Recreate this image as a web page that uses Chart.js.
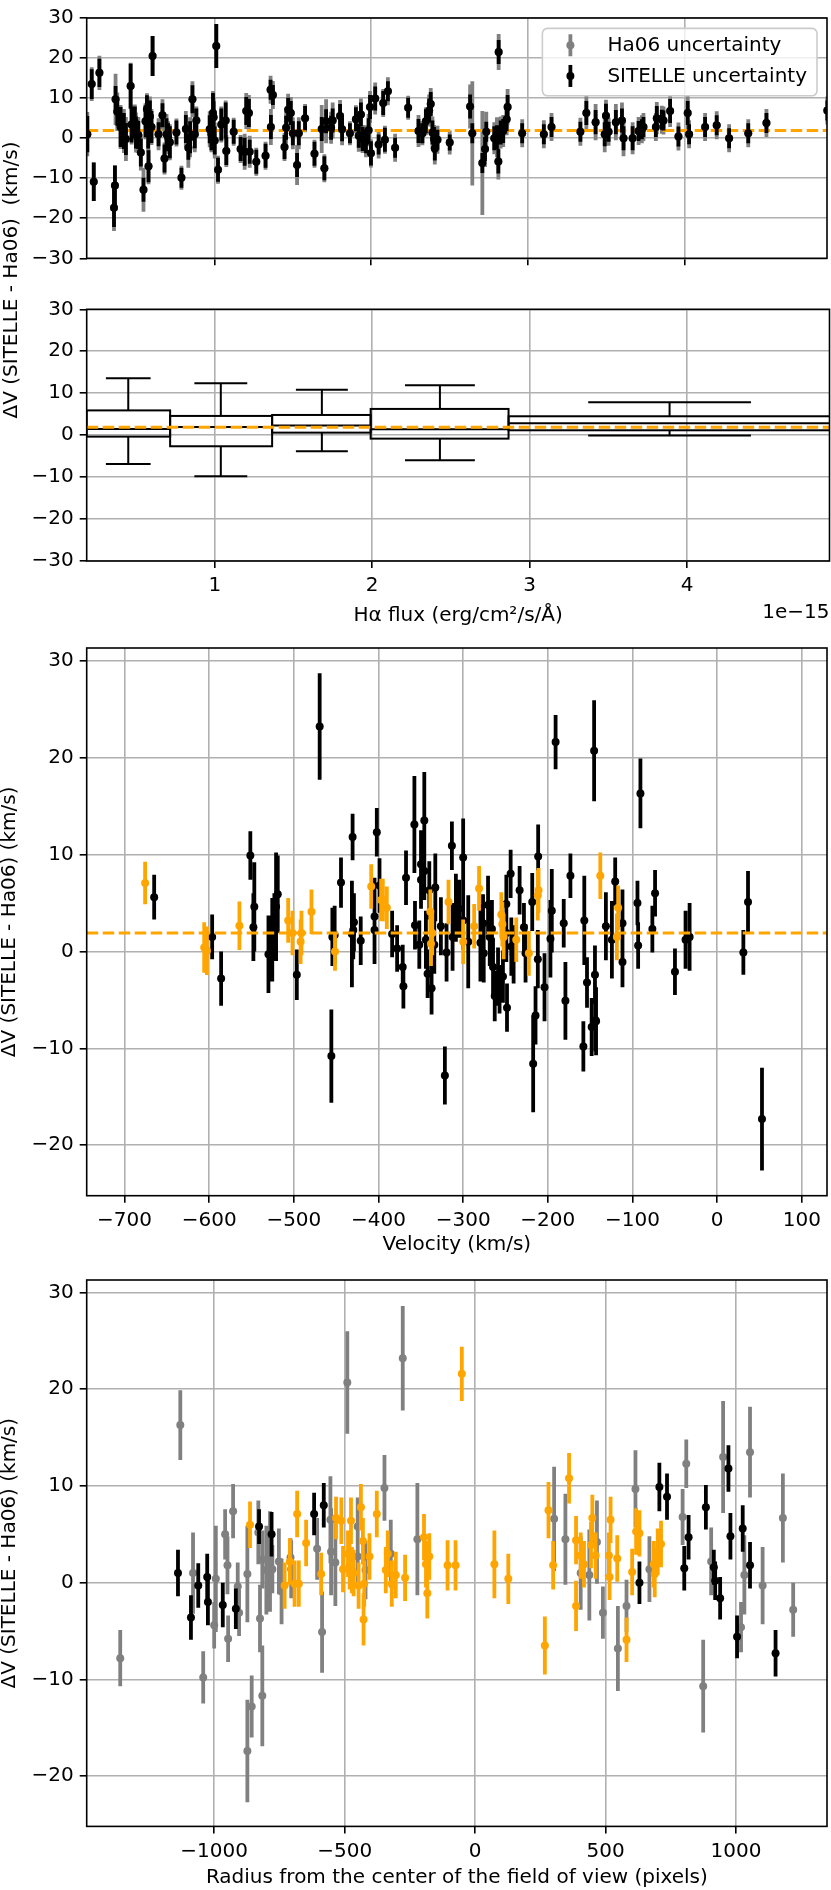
<!DOCTYPE html>
<html><head><meta charset="utf-8">
<script src="https://cdn.jsdelivr.net/npm/chart.js@4/dist/chart.umd.min.js"></script>
<style>
html,body{margin:0;padding:0;background:#fff;width:831px;height:1890px;overflow:hidden;position:relative;}
canvas{position:absolute;left:0;}
#ylab12{position:absolute;left:-190px;top:268px;width:400px;height:24px;text-align:center;transform:rotate(-90deg);transform-origin:50% 50%;font:20px 'DejaVu Sans',sans-serif;white-space:pre;color:#000;line-height:24px;}
</style></head><body>
<canvas id="cA" width="831" height="290" style="top:0px"></canvas>
<canvas id="cB" width="831" height="340" style="top:290px"></canvas>
<canvas id="cC" width="831" height="632" style="top:630px"></canvas>
<canvas id="cD" width="831" height="628" style="top:1262px"></canvas>
<div id="ylab12">ΔV (SITELLE - Ha06)  (km/s)</div>
<script>
// ---------------- DATA ----------------
const meanOffset = 1.9;              // dashed reference line (km/s)
const dvTicks = [-30, -20, -10, 0, 10, 20, 30];
const dvTicksWide = [-20, -10, 0, 10, 20, 30];
const fluxTicks = [1, 2, 3, 4];
const velTicks = [-700, -600, -500, -400, -300, -200, -100, 0, 100];
const radTicks = [-1000, -500, 0, 500, 1000];
const fluxLabel = 'Hα flux (erg/cm²/s/Å)';
const fluxOffsetLabel = '1e\u221215';
const dvLabel = 'ΔV (SITELLE - Ha06) (km/s)';
const velLabel = 'Velocity (km/s)';
const radLabel = 'Radius from the center of the field of view (pixels)';
const legendLabels = ['Ha06 uncertainty', 'SITELLE uncertainty'];

// Panel 1: ΔV vs Hα flux (×1e-15)
const fluxX = [
0.190,0.218,0.231,0.267,0.360,0.366,0.370,0.381,0.402,0.423,
0.436,0.466,0.472,0.493,0.500,0.515,0.531,0.548,0.561,0.570,
0.578,0.580,0.589,0.606,0.599,0.644,0.669,0.682,0.695,0.705,
0.716,0.758,0.790,0.818,0.834,0.845,0.860,0.875,0.885,0.970,
0.981,0.991,1.002,1.012,0.995,1.023,1.044,1.072,1.076,1.123,
1.167,1.193,1.203,1.220,1.225,1.267,1.326,1.358,1.373,1.360,
1.447,1.457,1.470,1.487,1.500,1.527,1.538,1.578,1.638,1.684,
1.701,1.712,1.744,1.754,1.801,1.814,1.864,1.902,1.920,1.934,
1.945,1.966,1.983,1.992,1.998,2.025,2.047,2.076,2.087,2.106,
2.152,2.235,2.301,
2.326,2.348,2.369,2.379,2.390,2.400,2.405,2.422,2.500,2.630,
2.644,2.708,2.725,2.733,2.784,2.801,2.810,2.812,2.825,2.841,
2.863,2.869,2.962,3.100,3.149,3.333,3.371,3.430,3.488,3.496,
3.513,3.559,3.598,3.608,3.666,3.704,3.725,3.735,3.814,3.820,
3.852,3.863,3.905,3.958,4.017,4.026,4.128,4.202,4.281,4.403,4.519,4.907];
const fluxDV = [
1.0,13.5,-10.9,16.3,-17.4,-11.8,9.7,6.6,2.8,1.8,
-0.2,13.0,3.4,3.9,1.4,0.8,-3.6,-12.9,4.2,7.2,
1.4,-7.0,5.4,20.5,2.8,1.0,5.7,-5.1,1.0,0.2,
-1.0,1.4,-9.9,2.3,-2.4,0.2,9.7,1.0,4.4,2.2,
1.0,6.3,-0.6,23.0,5.2,-7.9,3.4,4.4,-3.2,1.6,
-2.7,-3.4,6.8,6.3,-3.4,-5.9,-4.4,12.1,10.8,2.8,
-2.2,2.6,7.1,6.3,1.2,-6.7,1.2,5.0,-3.9,2.3,
-7.5,4.2,2.6,4.4,5.5,2.2,1.2,4.7,0.6,5.9,
-0.2,-0.8,2.0,7.8,-3.8,9.9,-1.6,8.8,-0.4,11.7,
-2.4,7.6,1.8,
1.2,4.2,6.9,8.5,1.4,-0.2,-2.6,-0.4,-1.1,7.9,
1.2,-6.2,-2.7,1.6,0,0.2,-5.8,21.5,1.4,1.8,
4.7,7.8,1.2,1.0,2.8,1.6,6.3,4.0,1.0,5.6,
1.6,4.0,4.4,0,0,1.8,2.2,2.8,2.8,5.0,
4.6,4.4,6.8,0.4,6.3,1.0,2.8,3.2,0,1.2,3.8,6.9];
const fluxErrSitelle = [
4.5,3.7,4.8,3.5,4.8,5.0,3.3,3.5,5.0,4.5,
4.0,5.6,4.5,4.0,4.0,3.5,3.5,3.0,4.0,3.5,
4.0,4.0,4.0,5.0,4.0,3.0,3.0,3.5,4.0,3.5,
4.0,3.0,2.5,3.5,3.0,4.0,3.5,3.5,3.0,3.5,
4.0,5.0,3.5,5.5,4.0,3.0,4.0,4.5,3.5,3.0,
3.0,3.5,3.5,3.5,3.0,3.0,3.0,2.5,2.5,3.0,
3.0,3.0,3.0,3.0,3.0,3.0,3.0,3.0,3.0,3.0,
3.0,3.0,3.0,3.0,3.0,3.0,2.5,3.0,3.0,3.0,
3.0,3.0,3.0,3.0,3.0,3.0,2.5,3.0,3.0,2.5,
2.5,2.5,3.0,
2.5,3.0,3.0,3.0,3.0,3.0,3.0,2.5,2.0,3.0,
2.5,2.5,3.0,2.5,3.0,3.0,3.0,3.0,3.0,3.0,
3.0,3.0,2.5,2.5,2.5,2.5,3.0,3.0,3.0,3.0,
2.5,3.0,3.0,3.0,3.0,2.5,2.5,2.5,2.5,3.0,
2.5,2.5,3.0,2.5,3.0,2.5,2.5,2.5,2.5,2.5,2.5,2.5];
const fluxErrHa06 = [
5.5,4.2,4.8,4.3,5.8,5.0,6.4,4.8,5.5,5.5,
5.5,5.8,5.0,4.5,5.0,4.5,4.5,5.5,4.5,4.0,
5.0,4.5,5.0,5.0,4.5,4.0,4.0,4.0,5.0,4.0,
4.5,3.5,3.0,4.5,5.0,5.0,4.5,4.5,3.5,4.5,
4.5,5.5,4.5,5.5,5.0,3.5,4.5,5.0,4.0,3.5,
3.5,4.5,4.5,4.5,4.0,3.5,3.5,3.5,3.5,4.5,
3.5,4.0,4.0,4.0,4.0,5.0,4.0,3.5,3.5,6.0,
3.5,5.5,4.0,4.5,4.0,4.0,3.0,3.5,4.0,4.0,
3.5,4.0,4.0,4.0,3.5,4.0,3.5,3.5,3.5,3.5,
3.5,3.0,4.0,
3.0,3.5,4.0,4.0,4.0,3.5,4.0,3.5,3.0,5.5,
13.0,13.0,4.5,5.0,4.0,5.0,4.5,4.5,4.0,4.0,
4.0,4.5,3.5,3.5,3.5,3.5,4.5,4.5,4.5,4.0,
3.5,4.5,4.5,4.5,4.0,3.5,3.5,3.5,3.5,4.0,
3.5,3.5,4.0,3.5,4.5,3.5,3.5,3.5,3.5,3.5,3.5,3.5];

// Panel 2: box plots per flux bin
const boxBinLo   = [0.186, 0.716, 1.364, 1.990, 2.866];
const boxBinHi   = [0.716, 1.364, 1.990, 2.866, 4.950];
const boxCenter  = [0.450, 1.038, 1.680, 2.430, 3.889];
const boxCapHalf = [0.142, 0.168, 0.165, 0.222, 0.517];
const boxQ1      = [-0.35, -2.65, 0.60, -0.83, 1.16];
const boxMedian  = [1.47, 1.95, 2.30, 1.40, 2.83];
const boxQ3      = [5.90, 4.58, 4.81, 6.25, 4.50];
const boxWhLo    = [-6.88, -9.82, -3.85, -6.00, -0.10];
const boxWhHi    = [13.55, 12.37, 10.85, 11.90, 7.84];

// Panel 3: ΔV vs velocity
const velBlackV = [-665,-596.5,-585.9,-551.4,-546.7,-547.8,-530,-525.5,-523,-521,-519,-496.5,-469.5,-455.7,-454.5,-451.8,-444.3,-430.6,-431.4,-429.8,
-429,-421,-404.7,-404.7,-402,-398.8,-383.9,-378,-371.4,-370.6,-367.5,-357.6,-356.9,-351.8,-349.8,-349.8,-345.9,-345.9,-344,-342,
-340,-337.3,-334.1,-332.9,-326.3,-321.6,-319.6,-313.3,-312.5,-308.6,-304.7,-300,-300,-294,-279.6,-276.5,-275.7,-270.6,-268.6,-266,
-264.7,-262.7,-258.8,-257,-253,-249,-249,-248.2,-243.9,-243.1,-240.4,-233.3,-228.2,-226.3,-218.4,-217.3,-214.5,-211.8,-211.4,-203.9,
-196.9,-195.3,-190.8,-181.2,-179.2,-173.3,-158,-156.9,-153.7,-148.2,-145.3,-144.3,-143.5,-143,-131.4,-124.3,-120.4,-111.8,-111.8,-94.1,
-93.3,-90.6,-76.5,-73.3,-49.8,-37.3,-32.5,31,36.5,53];
const velBlackDV = [5.6,1.5,-2.8,9.9,4.6,2.5,-0.3,1.2,2.5,4.6,5.9,-2.4,23.2,-10.8,1.5,1.7,7.1,11.8,1.8,2.2,
3.0,1.1,3.6,2.2,12.3,6.8,1.8,0.3,-1.6,-3.6,7.6,13.1,2.7,0.7,9.0,7.4,13.5,8.3,1.2,-2.3,
6.3,-3.8,0.7,6.6,2.6,-12.8,-0.1,10.9,1.5,4.5,4.4,9.7,3.2,1.0,0.9,2.9,-0.2,4.8,1.5,2.3,
-1.6,-4.6,-2.6,-3.9,-2.6,4.9,1.9,-5.8,8.0,0.5,-0.3,6.3,2.5,-0.2,5.1,-11.6,-6.6,-0.8,9.8,-3.7,
1.3,4.2,21.6,2.9,-5.1,7.8,-9.8,3.2,-3.2,-7.8,20.7,-2.4,-7.1,-7.2,2.6,1.2,7.2,2.9,-1.1,5.0,
0.6,16.3,2.3,6.0,-2.1,1.2,1.5,-0.1,5.1,-17.3];
const velBlackErr = [2.3,2.3,2.8,2.5,4.6,3.5,4.0,4.3,3.5,5.6,4.0,2.6,5.5,4.8,3.0,3.0,2.6,2.4,5.5,3.0,
3.0,2.5,4.0,3.5,2.5,2.8,2.4,2.4,2.3,2.3,2.8,5.0,2.5,2.5,3.5,3.0,5.0,3.0,3.0,2.5,
3.0,2.7,3.0,3.5,3.0,3.0,3.0,2.5,3.5,3.5,3.0,4.0,3.0,4.8,4.0,3.0,3.0,3.0,3.0,3.0,
3.0,2.6,3.0,2.5,2.7,3.0,3.0,2.5,2.5,3.0,3.0,2.5,2.5,3.0,3.0,5.0,3.0,3.0,3.3,3.5,
4.0,4.3,2.8,2.5,4.0,2.3,2.6,4.6,2.6,3.0,5.2,3.0,3.2,3.5,3.5,4.0,2.5,3.5,2.6,2.3,
2.4,3.6,2.4,2.4,2.4,3.0,3.5,2.3,3.2,5.3];
const velOrangeV = [-675.7,-605.9,-602.7,-564.3,-506.7,-501.6,-492,-491,-479.2,-451.4,-408.6,-396.9,-394.9,-390.2,-338.8,-338,-336.5,-317.3,-300,-287,
-281.2,-254.9,-253.7,-252.2,-237.3,-222.4,-211.8,-211,-138,-118.4,-116.9];
const velOrangeDV = [7.06,0.4,0.07,2.65,3.2,1.9,1.0,1.9,4.1,0,6.7,5.3,5.3,4.5,4.1,0.8,1.9,5.1,1.0,2.6,
6.5,3.8,2.8,1.5,1.2,-0.2,5.8,6.3,7.8,1.5,4.5];
const velOrangeErr = [2.2,2.6,2.5,2.5,2.3,2.3,2.3,2.3,2.3,2.0,2.3,2.2,2.2,2.2,2.3,2.3,2.3,2.3,2.3,2.3,
2.3,2.3,2.3,2.3,2.3,2.3,2.6,2.3,2.4,2.4,2.3];

// Panel 4: ΔV vs radius from field centre
const radGrayR = [-1360,-1129.8,-1081,-1042,-993.6,-1000,-958,-949,-946.6,-927.5,-909.7,-904.6,-872.8,-872.8,-856.2,-830.8,-824.4,-815.5,-815.5,-800,
-786,-777,-752,-741.7,-707.4,-704.8,-605.4,-586.5,-554.5,-552,-535.6,-489.8,-450,-450,-420,-347.4,-323.2,-277.3,-221.3,302.8,
346,404.6,437.7,466.9,489.8,547.1,580.2,614.5,668,795.2,809.2,874,904.6,950.4,1019,1031.8,1053.5,1101.8,1179.4,1218.9];
const radGrayDV = [-7.8,16.3,1.0,-9.8,0.4,-4.4,5.0,1.8,-5.8,7.4,-0.4,-3.1,0.9,-17.4,-12.8,5.2,-3.7,-11.7,2.4,1.3,
2.2,1.4,2.2,-0.9,2.6,1.4,3.5,-5.1,6.5,3.2,2.1,20.7,5.8,2.7,1.3,9.8,3.0,23.2,4.5,6.6,
4.5,1.0,0.8,4.2,-3.1,-6.8,-2.4,9.7,1.4,6.8,12.3,-10.7,2.2,13.0,-4.6,0.8,13.5,-0.3,6.7,-2.8];
const radGrayErr = [2.9,3.6,4.2,2.7,5.5,2.4,2.6,3.0,2.4,2.8,2.5,2.4,5.0,5.3,3.2,3.3,3.5,5.2,3.0,4.6,
5.2,2.5,3.4,3.4,2.0,3.0,3.2,4.2,4.5,4.5,4.5,5.3,3.0,3.0,3.0,3.4,3.5,5.4,5.8,5.4,
4.7,3.8,4.7,4.3,2.7,4.4,2.7,4.0,3.4,2.9,2.5,4.8,3.5,5.8,2.6,4.1,4.7,4.0,4.6,2.8];
const radOrangeR = [-862.6,-730,-709.9,-692,-682,-675.6,-647.6,-590,-533,-512.7,-506.3,-487.2,-480.8,-475.7,-472,-465.6,-446.6,-437.7,-430,-427.5,
-425,-404.8,-376.8,-342.3,-334.7,-319.3,-304,-268.4,-195.9,-188.3,-183.2,-175.6,-105.6,-75,-50.9,73.8,127.2,267.2,281.2,299,
360,386.8,386.8,404.6,417.3,444,449.2,461.8,512.7,515.3,519.1,544.6,580.2,601.8,617,629.8,684.5,688.3,699.8,712.5];
const radOrangeDV = [6.0,-0.3,2.2,-0.1,7.1,-0.1,4.1,0.9,6.7,6.4,1.4,3.0,1.7,6.4,1.3,1.0,-0.3,7.8,4.3,-3.8,
-0.1,2.7,7.1,1.3,3.0,-0.1,0.8,0.5,4.7,1.9,-1.1,2.7,1.8,1.8,21.6,1.9,0.4,-6.5,7.5,1.8,
10.8,4.4,-2.4,2.8,1.9,3.9,6.7,2.8,2.8,0.6,6.5,2.5,-5.9,1.1,5.3,5.1,1.9,0.9,3.2,4.0];
const radOrangeErr = [2.4,2.4,2.4,2.4,2.4,2.4,2.4,2.2,2.2,2.4,2.4,2.4,2.4,2.4,2.4,2.4,2.4,2.4,2.4,2.7,
2.4,2.4,2.4,2.4,2.4,2.4,2.4,2.4,2.4,2.4,2.6,2.4,2.6,2.6,2.8,3.5,2.6,3.0,2.9,2.5,
2.6,2.5,2.6,2.4,2.4,2.4,2.4,2.4,2.4,2.4,2.4,2.4,2.3,2.4,2.4,2.4,2.4,2.4,2.4,2.4];
const radBlackR = [-1138.7,-1089,-1061,-1026.7,-1024,-967,-917,-828,-780,-617,-580,629.8,706.1,735.4,801.5,818.1,884.3,914.8,919.9,939,
970.8,978.4,1003.8,1025.5,1053.5,1151.4];
const radBlackDV = [1.0,-3.6,-0.3,0.6,-2.0,-2.3,-2.7,5.8,5.0,7.1,8.0,0.0,9.9,8.9,1.5,4.7,7.8,1.6,0.2,-1.6,
11.8,4.8,-5.6,5.6,1.8,-7.3];
const radBlackErr = [2.4,2.3,2.3,2.4,2.4,2.3,2.1,1.8,2.3,2.2,2.3,2.2,2.5,2.4,2.3,2.3,2.3,1.8,2.0,2.2,
2.4,2.4,2.2,2.4,2.4,2.4];

// ---------------- STYLE ----------------
const ORANGE = '#ffa500', GRAY = '#808080', BLACK = '#000000';
const AXIS_W = 86.7;
Chart.defaults.font.family = "'DejaVu Sans', sans-serif";
Chart.defaults.font.size = 20;
Chart.defaults.color = '#000';
const fmt = v => (v < 0 ? '\u2212' + Math.abs(v) : String(v));
const pts = (xs, ys) => xs.map((x, i) => ({x, y: ys[i]}));

function scale(axis, min, max, ticks, size, showLabels, title, titlePad) {
  return {
    type: 'linear', position: axis === 'x' ? 'bottom' : 'left', min, max,
    afterBuildTicks: s => { s.ticks = ticks.map(v => ({value: v})); },
    afterFit: s => { if (axis === 'x') s.height = size; else s.width = size; },
    grid: {color: '#b0b0b0', lineWidth: 1.6, tickColor: '#000', tickWidth: 1.6, tickLength: 7},
    border: {display: false},
    ticks: {display: showLabels, padding: 6, autoSkip: false, maxRotation: 0, color: '#000',
            font: {size: 20}, callback: v => fmt(v)},
    title: title ? {display: true, text: title, color: '#000', font: {size: 20}, padding: titlePad}
                 : {display: false}
  };
}
function errSet(label, xs, ys, errs, color, order) {
  return {label, data: pts(xs, ys), errors: errs, backgroundColor: color, borderColor: color,
          pointRadius: 4, pointBorderWidth: 0, pointHoverRadius: 4, showLine: false, order};
}
function refLine(xmin, xmax, order) {
  return {data: [{x: xmin, y: meanOffset}, {x: xmax, y: meanOffset}], showLine: true,
          borderColor: ORANGE, borderWidth: 3, borderDash: [11.5, 4.5], pointRadius: 0, order};
}
function clipArea(ctx, a) {
  ctx.beginPath(); ctx.rect(a.left, a.top, a.right - a.left, a.bottom - a.top); ctx.clip();
}
const errorBarPlugin = {
  id: 'errbars',
  beforeDatasetDraw(chart, args) {
    const ds = chart.data.datasets[args.index];
    if (!ds.errors) return;
    const {ctx, chartArea: a, scales: {x, y}} = chart;
    ctx.save(); clipArea(ctx, a);
    ctx.strokeStyle = ds.backgroundColor; ctx.lineWidth = 3.8; ctx.lineCap = 'butt';
    ctx.beginPath();
    ds.data.forEach((p, i) => {
      const px = x.getPixelForValue(p.x), e = ds.errors[i];
      ctx.moveTo(px, y.getPixelForValue(p.y - e));
      ctx.lineTo(px, y.getPixelForValue(p.y + e));
    });
    ctx.stroke(); ctx.restore();
  }
};
const framePlugin = {
  id: 'frame',
  afterDraw(chart) {
    const {ctx, chartArea: a} = chart;
    ctx.save(); ctx.strokeStyle = '#000'; ctx.lineWidth = 1.6;
    ctx.strokeRect(a.left, a.top, a.right - a.left, a.bottom - a.top);
    ctx.restore();
  }
};
const legendPlugin = {
  id: 'mplLegend',
  afterDraw(chart) {
    const {ctx, chartArea: a} = chart;
    const items = chart.data.datasets.filter(d => d.label);
    ctx.save();
    ctx.font = "20px 'DejaVu Sans', sans-serif";
    const tw = Math.max(...items.map(d => ctx.measureText(d.label).width));
    const pad = 8, hl = 40, htp = 17, rowH = 20.7, sp = 10;
    const w = pad + hl + htp + tw + pad + 2;
    const h = pad * 2 + rowH * items.length + sp * (items.length - 1);
    const x0 = a.right - 10 - w, y0 = a.top + 10.4, r = 5;
    ctx.beginPath();
    ctx.moveTo(x0 + r, y0); ctx.lineTo(x0 + w - r, y0); ctx.arcTo(x0 + w, y0, x0 + w, y0 + r, r);
    ctx.lineTo(x0 + w, y0 + h - r); ctx.arcTo(x0 + w, y0 + h, x0 + w - r, y0 + h, r);
    ctx.lineTo(x0 + r, y0 + h); ctx.arcTo(x0, y0 + h, x0, y0 + h - r, r);
    ctx.lineTo(x0, y0 + r); ctx.arcTo(x0, y0, x0 + r, y0, r); ctx.closePath();
    ctx.fillStyle = 'rgba(255,255,255,0.8)'; ctx.fill();
    ctx.strokeStyle = '#cccccc'; ctx.lineWidth = 1.6; ctx.stroke();
    items.forEach((d, i) => {
      const cy = y0 + pad + rowH / 2 + i * (rowH + sp) - 1.5;
      const cx = x0 + pad + hl / 2;
      ctx.strokeStyle = d.backgroundColor; ctx.lineWidth = 3.8;
      ctx.beginPath(); ctx.moveTo(cx, cy - 11); ctx.lineTo(cx, cy + 11); ctx.stroke();
      ctx.fillStyle = d.backgroundColor;
      ctx.beginPath(); ctx.arc(cx, cy, 4, 0, Math.PI * 2); ctx.fill();
      ctx.fillStyle = '#000'; ctx.textBaseline = 'middle'; ctx.textAlign = 'left';
      ctx.fillText(d.label, x0 + pad + hl + htp, cy + 1);
    });
    ctx.restore();
  }
};
const boxPlugin = {
  id: 'boxes',
  beforeDatasetsDraw(chart) {
    const {ctx, chartArea: a, scales: {x, y}} = chart;
    ctx.save(); clipArea(ctx, a);
    ctx.strokeStyle = '#000'; ctx.lineWidth = 2;
    const seg = (x1, y1, x2, y2) => { ctx.beginPath(); ctx.moveTo(x1, y1); ctx.lineTo(x2, y2); ctx.stroke(); };
    boxBinLo.forEach((lo, i) => {
      const xl = x.getPixelForValue(lo), xr = x.getPixelForValue(boxBinHi[i]);
      const xc = x.getPixelForValue(boxCenter[i]);
      const cl = x.getPixelForValue(boxCenter[i] - boxCapHalf[i]);
      const cr = x.getPixelForValue(boxCenter[i] + boxCapHalf[i]);
      const yq1 = y.getPixelForValue(boxQ1[i]), yq3 = y.getPixelForValue(boxQ3[i]);
      const ym = y.getPixelForValue(boxMedian[i]);
      const ylo = y.getPixelForValue(boxWhLo[i]), yhi = y.getPixelForValue(boxWhHi[i]);
      ctx.strokeRect(xl, yq3, xr - xl, yq1 - yq3);
      seg(xl, ym, xr, ym);
      seg(xc, yq3, xc, yhi); seg(xc, yq1, xc, ylo);
      seg(cl, yhi, cr, yhi); seg(cl, ylo, cr, ylo);
    });
    ctx.restore();
  }
};
const offsetTextPlugin = {
  id: 'offsetText',
  afterDraw(chart) {
    const {ctx, chartArea: a} = chart;
    ctx.save(); ctx.font = "20px 'DejaVu Sans', sans-serif"; ctx.fillStyle = '#000';
    ctx.textAlign = 'right'; ctx.textBaseline = 'middle';
    ctx.fillText(fluxOffsetLabel, a.right, 322.5);
    ctx.restore();
  }
};

const common = (padTop, xs, ys) => ({
  animation: false, responsive: false, devicePixelRatio: 1, events: [],
  layout: {padding: {top: padTop, right: 1.5, left: 0, bottom: 0}},
  plugins: {legend: {display: false}, tooltip: {enabled: false}},
  scales: {x: xs, y: ys}
});

const FX = [0.186, 4.905], VX = [-744.7, 129.8], RX = [-1488.5, 1348.5], WY = [-25.2, 31.3];

// Panel 1
new Chart(document.getElementById('cA'), {
  type: 'scatter',
  data: {datasets: [
    errSet(legendLabels[0], fluxX, fluxDV, fluxErrHa06, GRAY, 3),
    errSet(legendLabels[1], fluxX, fluxDV, fluxErrSitelle, BLACK, 1),
    refLine(FX[0], FX[1], 2)
  ]},
  options: common(6.7,
    scale('x', FX[0], FX[1], fluxTicks, 31.7, false),
    scale('y', -30, 30, dvTicks, AXIS_W, true)),
  plugins: [errorBarPlugin, framePlugin, legendPlugin]
});

// Panel 2
new Chart(document.getElementById('cB'), {
  type: 'scatter',
  data: {datasets: [refLine(FX[0], FX[1], 1)]},
  options: common(19.3,
    scale('x', FX[0], FX[1], fluxTicks, 69, true, fluxLabel, {top: 0, bottom: 2}),
    scale('y', -30, 30, dvTicks, AXIS_W, true)),
  plugins: [boxPlugin, framePlugin, offsetTextPlugin]
});

// Panel 3
new Chart(document.getElementById('cC'), {
  type: 'scatter',
  data: {datasets: [
    errSet('', velBlackV, velBlackDV, velBlackErr, BLACK, 3),
    errSet('', velOrangeV, velOrangeDV, velOrangeErr, ORANGE, 1),
    refLine(VX[0], VX[1], 2)
  ]},
  options: common(11.7,
    scale('x', VX[0], VX[1], velTicks, 66.3, true, velLabel, {top: 0, bottom: 5}),
    scale('y', WY[0], WY[1], dvTicksWide, AXIS_W, true, dvLabel, {top: -2, bottom: 0})),
  plugins: [errorBarPlugin, framePlugin]
});

// Panel 4
new Chart(document.getElementById('cD'), {
  type: 'scatter',
  data: {datasets: [
    errSet('', radGrayR, radGrayDV, radGrayErr, GRAY, 3),
    errSet('', radOrangeR, radOrangeDV, radOrangeErr, ORANGE, 2),
    errSet('', radBlackR, radBlackDV, radBlackErr, BLACK, 1)
  ]},
  options: common(11.4,
    scale('x', RX[0], RX[1], radTicks, 63.6, true, radLabel, {top: 0, bottom: 0}),
    scale('y', WY[0], WY[1], dvTicksWide, AXIS_W, true, dvLabel, {top: -2, bottom: 0})),
  plugins: [errorBarPlugin, framePlugin]
});
</script>
</body></html>
